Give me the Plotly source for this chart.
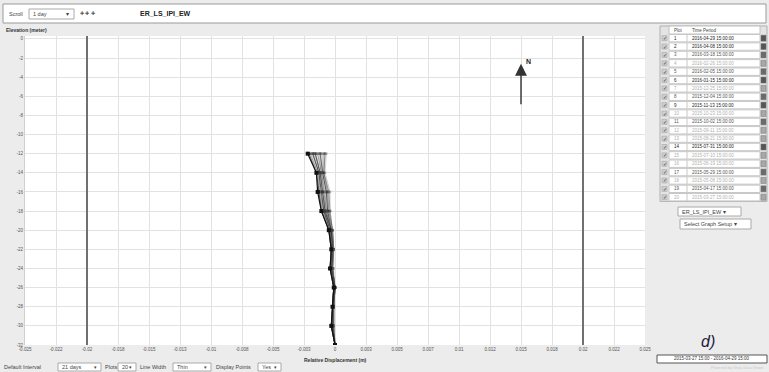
import plotly.graph_objects as go

# ---------------- data ----------------
depths = [-12, -14, -16, -18, -20, -22, -24, -26, -28, -30, -32]

plot_numbers = list(range(1, 21))
time_periods = [
    "2016-04-29 15:00:00", "2016-04-08 15:00:00", "2016-03-18 15:00:00",
    "2016-02-26 15:00:00", "2016-02-05 15:00:00", "2016-01-15 15:00:00",
    "2015-12-25 15:00:00", "2015-12-04 15:00:00", "2015-11-13 15:00:00",
    "2015-10-23 15:00:00", "2015-10-02 15:00:00", "2015-09-11 15:00:00",
    "2015-08-21 15:00:00", "2015-07-31 15:00:00", "2015-07-10 15:00:00",
    "2015-06-19 15:00:00", "2015-05-29 15:00:00", "2015-05-08 15:00:00",
    "2015-04-17 15:00:00", "2015-03-27 15:00:00",
]
row_shade = ["dark", "dark", "mid", "light", "mid", "dark", "light", "mid", "dark", "light",
             "mid", "light", "light", "dark", "light", "light", "mid", "light", "mid", "light"]

displacement = [
    [-0.0022, -0.0015, -0.0014, -0.0011, -0.0005, -0.0003, -0.0004, -0.0001, -0.0002, -0.0003, 0.0],
    [-0.0021, -0.0015, -0.0013, -0.0011, -0.0005, -0.0003, -0.0004, -0.0001, -0.0002, -0.0003, 0.0],
    [-0.0020, -0.0014, -0.0013, -0.0010, -0.0005, -0.0003, -0.0004, -0.0001, -0.0002, -0.0003, 0.0],
    [-0.0019, -0.0014, -0.0012, -0.0010, -0.0004, -0.0003, -0.0003, -0.0001, -0.0002, -0.0003, 0.0],
    [-0.0018, -0.0013, -0.0012, -0.0009, -0.0004, -0.0003, -0.0003, -0.0001, -0.0002, -0.0002, 0.0],
    [-0.0018, -0.0013, -0.0011, -0.0009, -0.0004, -0.0003, -0.0003, -0.0001, -0.0002, -0.0003, 0.0],
    [-0.0017, -0.0013, -0.0011, -0.0009, -0.0004, -0.0002, -0.0003, -0.0001, -0.0002, -0.0002, 0.0],
    [-0.0016, -0.0012, -0.0010, -0.0008, -0.0004, -0.0002, -0.0003, -0.0001, -0.0002, -0.0002, 0.0],
    [-0.0016, -0.0012, -0.0010, -0.0008, -0.0003, -0.0002, -0.0003, 0.0000, -0.0002, -0.0002, 0.0],
    [-0.0015, -0.0012, -0.0009, -0.0008, -0.0003, -0.0002, -0.0003, 0.0000, -0.0001, -0.0002, 0.0],
    [-0.0014, -0.0011, -0.0009, -0.0007, -0.0003, -0.0002, -0.0003, 0.0000, -0.0001, -0.0002, 0.0],
    [-0.0013, -0.0011, -0.0008, -0.0007, -0.0003, -0.0002, -0.0002, 0.0000, -0.0001, -0.0002, 0.0],
    [-0.0012, -0.0011, -0.0008, -0.0007, -0.0003, -0.0002, -0.0002, 0.0000, -0.0001, -0.0002, 0.0],
    [-0.0012, -0.0010, -0.0007, -0.0006, -0.0003, -0.0002, -0.0002, 0.0000, -0.0001, -0.0002, 0.0],
    [-0.0011, -0.0010, -0.0007, -0.0006, -0.0002, -0.0002, -0.0002, 0.0000, -0.0001, -0.0002, 0.0],
    [-0.0010, -0.0010, -0.0006, -0.0006, -0.0002, -0.0002, -0.0002, 0.0000, -0.0001, -0.0001, 0.0],
    [-0.0009, -0.0009, -0.0006, -0.0005, -0.0002, -0.0001, -0.0002, 0.0000, -0.0001, -0.0001, 0.0],
    [-0.0008, -0.0009, -0.0005, -0.0005, -0.0002, -0.0001, -0.0002, 0.0000, -0.0001, -0.0001, 0.0],
    [-0.0008, -0.0009, -0.0005, -0.0004, -0.0002, -0.0001, -0.0002, 0.0000, -0.0001, -0.0001, 0.0],
    [-0.0007, -0.0008, -0.0004, -0.0004, -0.0002, -0.0001, -0.0001, 0.0000, -0.0001, -0.0001, 0.0],
]

x_tickvals = [-0.025, -0.0225, -0.02, -0.0175, -0.015, -0.0125, -0.01, -0.0075, -0.005, -0.0025, 0,
              0.0025, 0.005, 0.0075, 0.01, 0.0125, 0.015, 0.0175, 0.02, 0.0225, 0.025]
x_ticktext = ["-0.025", "-0.022", "-0.02", "-0.018", "-0.015", "-0.013", "-0.01", "-0.008", "-0.005",
              "-0.003", "0", "0.003", "0.005", "0.007", "0.01", "0.012", "0.015", "0.018", "0.02",
              "0.022", "0.025"]
y_tickvals = list(range(0, -34, -2))
y_ticktext = [str(v) for v in y_tickvals]

limit_lines = [-0.02, 0.02]
north_x = 0.015
north_from = -7.0
north_to = -2.6

chart_title = "ER_LS_IPI_EW"
date_range = "2015-03-27 15:00 - 2016-04-29 15:00"

# ---------------- layout helpers ----------------
W, H = 769, 372
L, R, T, B = 25, 124, 36, 27
PW, PH = W - L - R, H - T - B
FONT = "Liberation Sans, Arial, sans-serif"


def px(x):
    return (x - L) / PW


def py(y):
    return (H - B - y) / PH


shapes = []
annotations = []


def rect(x0, y0, x1, y1, fill="white", line="#a0a0a0", lw=1):
    shapes.append(dict(type="rect", xref="paper", yref="paper",
                       x0=px(x0), x1=px(x1), y0=py(y1), y1=py(y0),
                       fillcolor=fill, line=dict(color=line, width=lw), layer="above"))


def vline(x, y0, y1, color="#c8c8c8", lw=1):
    shapes.append(dict(type="line", xref="paper", yref="paper",
                       x0=px(x), x1=px(x), y0=py(y0), y1=py(y1),
                       line=dict(color=color, width=lw), layer="above"))


def text(x, y, s, size=5, color="#333", anchor="left", bold=False, italic=False, family=FONT):
    if bold:
        s = "<b>" + s + "</b>"
    if italic:
        s = "<i>" + s + "</i>"
    annotations.append(dict(xref="paper", yref="paper", x=px(x), y=py(y), text=s,
                            showarrow=False, xanchor=anchor, yanchor="middle",
                            font=dict(size=size, color=color, family=family)))


# ---------------- figure ----------------
fig = go.Figure()

shade_color = {"dark": "rgba(30,30,30,0.85)", "mid": "rgba(70,70,70,0.6)", "light": "rgba(120,120,120,0.45)"}
for i in range(len(displacement) - 1, -1, -1):
    col = "#111" if i == 0 else shade_color[row_shade[i]]
    fig.add_trace(go.Scatter(
        x=displacement[i], y=depths, mode="lines+markers",
        line=dict(color=col, width=1.2 if i == 0 else 0.8),
        marker=dict(symbol="square", size=4 if i == 0 else 2.5, color=col),
        name=str(plot_numbers[i]), showlegend=False, hoverinfo="skip"))

# limit lines
for lx in limit_lines:
    shapes.append(dict(type="line", xref="x", yref="paper", x0=lx, x1=lx, y0=0, y1=1,
                       line=dict(color="#707070", width=2), layer="above"))

# north arrow
annotations.append(dict(x=north_x, y=north_to, ax=north_x, ay=north_from, xref="x", yref="y",
                        axref="x", ayref="y", text="", showarrow=True, arrowhead=2,
                        arrowsize=1.7, arrowwidth=1.4, arrowcolor="#333"))
annotations.append(dict(x=north_x, y=north_to, xref="x", yref="y", text="<b>N</b>",
                        showarrow=False, xanchor="left", yanchor="middle", xshift=3, yshift=2,
                        font=dict(size=7, color="#222", family=FONT)))

# top toolbar
rect(3, 4, 766, 23, fill="white", line="#9a9a9a")
text(7, 14, "Scroll", size=5.5, color="#444")
rect(29, 9, 74, 19, fill="white", line="#aaaaaa")
text(31, 14, "1 day", size=5.5, color="#444")
text(71, 14, "▾", size=5.5, color="#444", anchor="right")
text(78, 13, "✚ ✚ ✚", size=5, color="#555")
text(165, 14, chart_title, size=7, color="#222", anchor="center", bold=True)

# y axis title
text(4, 30, "Elevation (meter)", size=5, color="#333", bold=True)
# x axis title
text(335, 360, "Relative Displacement (m)", size=5, color="#333", anchor="center", bold=True)

# bottom controls
cy = 367
text(2, cy, "Default Interval", size=5.5, color="#444")
rect(58, cy - 4, 101, cy + 4, fill="white", line="#aaaaaa")
text(60, cy, "21 days", size=5.5, color="#444")
text(99, cy, "▾", size=5, color="#444", anchor="right")
text(103, cy, "Plots", size=5.5, color="#444")
rect(118, cy - 4, 136, cy + 4, fill="white", line="#aaaaaa")
text(120, cy, "20", size=5.5, color="#444")
text(134, cy, "▾", size=5, color="#444", anchor="right")
text(138, cy, "Line Width", size=5.5, color="#444")
rect(173, cy - 4, 211, cy + 4, fill="white", line="#aaaaaa")
text(175, cy, "Thin", size=5.5, color="#444")
text(209, cy, "▾", size=5, color="#444", anchor="right")
text(214, cy, "Display Points", size=5.5, color="#444")
rect(258, cy - 4, 281, cy + 4, fill="white", line="#aaaaaa")
text(260, cy, "Yes", size=5.5, color="#444")
text(279, cy, "▾", size=5, color="#444", anchor="right")

# right table
tx0, tx1 = 660, 767
row0, rowh = 34, 8.37
rect(tx0, 26, tx1, row0 + 20 * rowh, fill="#e4e4e4", line="#b0b0b0")
rect(669, 26, 760, row0, fill="white", line="#c0c0c0")
text(672, 30, "Plot", size=4.5, color="#444")
text(690, 30, "Time Period", size=4.5, color="#444")
shade_text = {"dark": "#222", "mid": "#555", "light": "#b0b0b0"}
shade_sw = {"dark": "#555", "mid": "#6a6a6a", "light": "#a8a8a8"}
for k in range(20):
    y0 = row0 + k * rowh
    yc = y0 + rowh / 2
    rect(669, y0 + 0.5, 760, y0 + rowh - 0.5, fill="white", line="#c8c8c8")
    vline(687, y0 + 0.5, y0 + rowh - 0.5, color="#c8c8c8")
    rect(662, yc - 2.5, 667, yc + 2.5, fill="#d0d0d0", line="#9a9a9a", lw=0.5)
    text(664.5, yc, "✓", size=5, color="#333", anchor="center")
    text(672, yc, str(plot_numbers[k]), size=4.5, color=shade_text[row_shade[k]])
    text(690, yc, time_periods[k], size=4.5, color=shade_text[row_shade[k]])
    rect(761, yc - 3, 766, yc + 3, fill=shade_sw[row_shade[k]], line="#777", lw=0.5)

# dropdowns under table
rect(678, 207, 741, 216, fill="white", line="#aaaaaa")
text(680, 211.5, "ER_LS_IPI_EW ▾", size=5.5, color="#444")
rect(680, 219, 751, 229, fill="white", line="#aaaaaa")
text(682, 224, "Select Graph Setup ▾", size=5.5, color="#444")

# panel label and date range
text(708, 341, "d)", size=16, color="#1a1a3a", anchor="center", italic=True)
rect(657, 355, 767, 363, fill="white", line="#555555")
text(712, 359, date_range, size=4.5, color="#333", anchor="center")
text(766, 367, "Powered by Vista Data Vision", size=4, color="#c8c8c8", anchor="right")

fig.update_layout(
    width=W, height=H,
    margin=dict(l=L, r=R, t=T, b=B, pad=0, autoexpand=False),
    paper_bgcolor="#ececec", plot_bgcolor="white",
    font=dict(family=FONT, size=5, color="#555"),
    xaxis=dict(range=[-0.025, 0.025], tickvals=x_tickvals, ticktext=x_ticktext,
               tickfont=dict(size=4.5, color="#555"), showgrid=True, gridcolor="#e2e2e2",
               gridwidth=1, zeroline=False, showline=False, ticks="", fixedrange=True,
               automargin=False),
    yaxis=dict(range=[-32, 0.3], tickvals=y_tickvals, ticktext=y_ticktext,
               tickfont=dict(size=4.5, color="#555"), showgrid=True, gridcolor="#e2e2e2",
               gridwidth=1, zeroline=False, showline=True, linecolor="#d0d0d0", ticks="",
               fixedrange=True, automargin=False),
    shapes=shapes, annotations=annotations, showlegend=False,
)

fig.write_html("out.html", config={"displayModeBar": False},
               post_script="document.body.style.margin='0';document.body.style.overflow='hidden';")
